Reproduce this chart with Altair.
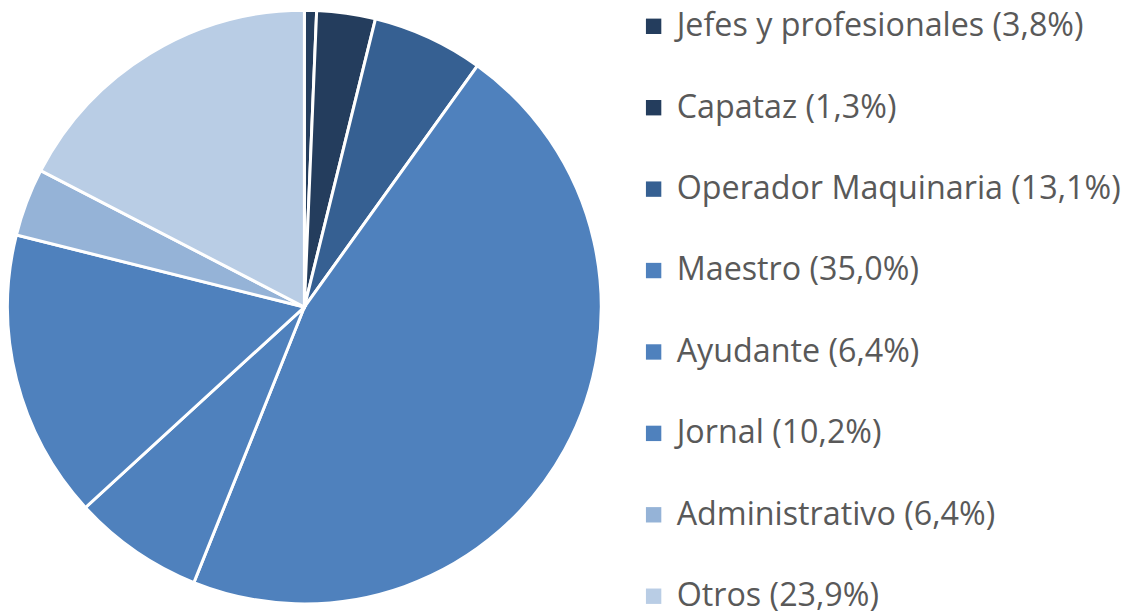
import altair as alt
import pandas as pd

labels = [
    "Jefes y profesionales (3,8%)",
    "Capataz (1,3%)",
    "Operador Maquinaria (13,1%)",
    "Maestro (35,0%)",
    "Ayudante (6,4%)",
    "Jornal (10,2%)",
    "Administrativo (6,4%)",
    "Otros (23,9%)",
]
values = [0.66, 3.19, 6.05, 46.17, 7.13, 15.7, 3.7, 17.4]
colors = ["#243d5d", "#243d5d", "#366092", "#4f81bd", "#4f81bd", "#4f81bd", "#95b3d7", "#b9cde5"]

df = pd.DataFrame({"label": labels, "value": values, "order": list(range(len(labels)))})

chart = alt.Chart(df).mark_arc(radius=299, stroke="white", strokeWidth=3).encode(
    theta=alt.Theta("value:Q", stack=True),
    order=alt.Order("order:Q"),
    x=alt.value(298.5),
    y=alt.value(299),
    color=alt.Color(
        "label:N",
        scale=alt.Scale(domain=labels, range=colors),
        sort=labels,
        legend=alt.Legend(
            title=None,
            orient="none",
            legendX=634,
            legendY=0,
            symbolType="square",
            symbolSize=240,
            symbolStrokeWidth=0,
            labelFont="Open Sans",
            labelFontSize=32.5,
            labelColor="#595959",
            labelOffset=7,
            labelLimit=600,
            rowPadding=49.0,
            padding=0,
        ),
    ),
).properties(
    width=1124,
    height=608,
    padding=0,
    autosize=alt.AutoSizeParams(type="none"),
).configure_view(stroke=None)

chart.save("out.html", embed_options={"renderer": "svg", "actions": False})
